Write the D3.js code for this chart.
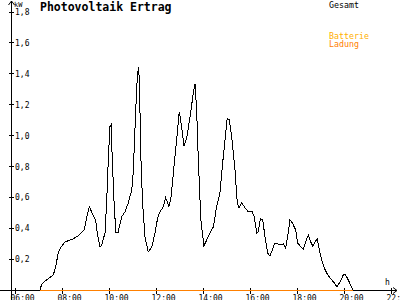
<!DOCTYPE html>
<html><head><meta charset="utf-8">
<script src="https://cdn.jsdelivr.net/npm/d3@7"></script>
<style>
html,body{margin:0;padding:0;background:#fff;}
svg{display:block;}
text{font-family:"DejaVu Sans Mono","Liberation Mono",monospace;}
</style></head>
<body>
<script>
// Data: time of day (hours) and power in kW
const zeit = [7.06,7.14,7.28,7.63,7.73,7.84,7.96,8.13,8.47,8.68,8.94,9.05,9.16,9.28,9.43,9.50,9.62,9.69,9.83,9.90,9.97,10.04,10.09,10.14,10.23,10.30,10.38,10.54,10.68,10.82,10.97,11.03,11.11,11.18,11.25,11.29,11.36,11.43,11.53,11.67,11.82,11.96,12.07,12.17,12.31,12.41,12.50,12.55,12.64,12.74,12.88,12.99,13.09,13.19,13.31,13.45,13.59,13.66,13.73,13.80,13.91,14.04,14.16,14.30,14.44,14.58,14.72,14.82,14.94,15.03,15.12,15.22,15.36,15.46,15.53,15.65,15.79,15.93,16.10,16.18,16.29,16.35,16.44,16.54,16.64,16.75,16.85,16.95,17.06,17.19,17.32,17.42,17.52,17.60,17.70,17.80,17.94,18.03,18.17,18.27,18.37,18.48,18.58,18.67,18.77,18.86,18.95,19.05,19.16,19.31,19.45,19.59,19.70,19.83,19.97,20.07,20.18,20.30,20.38];
const gesamt = [0,0.039,0.058,0.097,0.149,0.240,0.278,0.311,0.330,0.350,0.389,0.466,0.538,0.499,0.453,0.369,0.278,0.291,0.369,0.563,0.842,1.056,1.069,0.842,0.518,0.369,0.369,0.473,0.505,0.563,0.648,0.758,1.056,1.315,1.444,1.360,0.842,0.563,0.343,0.246,0.278,0.369,0.466,0.505,0.538,0.596,0.563,0.538,0.602,0.758,0.972,1.153,1.056,0.933,0.984,1.120,1.276,1.328,1.166,0.842,0.453,0.285,0.324,0.369,0.408,0.538,0.628,0.797,0.972,1.108,1.101,0.991,0.777,0.563,0.531,0.563,0.531,0.505,0.505,0.473,0.369,0.376,0.460,0.453,0.343,0.240,0.220,0.259,0.304,0.298,0.291,0.298,0.272,0.343,0.453,0.434,0.389,0.304,0.278,0.266,0.311,0.356,0.311,0.285,0.311,0.330,0.259,0.194,0.142,0.097,0.071,0.045,0.019,0.052,0.097,0.097,0.065,0.026,0];
const ladungZeit = [7.06, 20.38];
const ladungWerte = [0, 0];
const yTicks = [0.2,0.4,0.6,0.8,1.0,1.2,1.4,1.6,1.8];
const xTicks = [6,8,10,12,14,16,18,20,22];
const xTickLabels = ["06:00","08:00","10:00","12:00","14:00","16:00","18:00","20:00","22:00"];
const legendLabels = ["Gesamt","Batterie","Ladung"];

const W = 400, H = 300;
const svg = d3.select("body").append("svg").attr("width", W).attr("height", H)
  .style("background", "#fff");

const x = d3.scaleLinear().domain([6, 22]).range([15, 391]);
const y = d3.scaleLinear().domain([0, 1.8]).range([290, 11.5]);
const loc = d3.formatLocale({decimal: ",", thousands: ".", grouping: [3], currency: ["", "€"]});
const fmt = loc.format(".1f");

// Y axis
const yAx = svg.append("g").attr("transform", "translate(11.5,0)")
  .call(d3.axisLeft(y).tickValues(yTicks).tickFormat(fmt).tickSize(0));
yAx.select(".domain").remove();
yAx.selectAll(".tick line").attr("x1", -3).attr("x2", 2).attr("stroke", "#000").attr("shape-rendering", "crispEdges");
yAx.selectAll(".tick text").attr("x", 3.5).attr("dy", "0.35em").attr("text-anchor", "start")
  .attr("font-size", 8).attr("fill", "#000")
  .attr("font-family", "DejaVu Sans Mono, monospace");
svg.append("line").attr("x1", 11.5).attr("x2", 11.5).attr("y1", 1).attr("y2", 300)
  .attr("stroke", "#000").attr("shape-rendering", "crispEdges");
svg.append("path").attr("d", "M8.5,5 L11.5,1 L14.5,5").attr("fill", "none").attr("stroke", "#000");

// X axis
const xAx = svg.append("g").attr("transform", "translate(0,290.5)")
  .call(d3.axisBottom(x).tickValues(xTicks).tickFormat((d, i) => xTickLabels[i]).tickSize(0));
xAx.select(".domain").remove();
xAx.selectAll(".tick line").attr("y1", -3).attr("y2", 3).attr("stroke", "#000").attr("shape-rendering", "crispEdges");
xAx.selectAll(".tick text").attr("y", 5).attr("dy", "0.71em").attr("text-anchor", "start").attr("dx", -5)
  .attr("font-size", 8).attr("fill", "#000")
  .attr("font-family", "DejaVu Sans Mono, monospace");
svg.append("line").attr("x1", 0).attr("x2", 397).attr("y1", 290.5).attr("y2", 290.5)
  .attr("stroke", "#000").attr("shape-rendering", "crispEdges");
svg.append("path").attr("d", "M393,287.5 L397,290.5 L393,293.5").attr("fill", "none").attr("stroke", "#000");

// Axis units
svg.append("text").attr("x", 14).attr("y", 7).attr("font-size", 7).text("kW");
svg.append("text").attr("x", 385).attr("y", 285).attr("font-size", 8).text("h");

// Title
svg.append("text").attr("x", 40).attr("y", 11).attr("font-size", 11.5).attr("font-weight", "bold")
  .text("Photovoltaik Ertrag");

// Legend
const legColors = ["#000", "#ffb000", "#ff8000"];
const legY = [7.5, 39, 47];
legendLabels.forEach((t, i) => {
  svg.append("text").attr("x", 329).attr("y", legY[i]).attr("font-size", 8.3)
    .attr("fill", legColors[i]).text(t);
});

// Ladung line
const ladData = ladungZeit.map((t, i) => [t, ladungWerte[i]]);
svg.append("path").datum(ladData)
  .attr("d", d3.line().x(d => x(d[0])).y(d => y(d[1]) + 0.5))
  .attr("fill", "none").attr("stroke", "#ff8000").attr("stroke-width", 1)
  .attr("shape-rendering", "crispEdges");

// Gesamt line
const data = zeit.map((t, i) => [t, gesamt[i]]);
svg.append("path").datum(data)
  .attr("d", d3.line().x(d => x(d[0])).y(d => y(d[1])))
  .attr("fill", "none").attr("stroke", "#000").attr("stroke-width", 1)
  .attr("shape-rendering", "crispEdges");
</script>
</body></html>
